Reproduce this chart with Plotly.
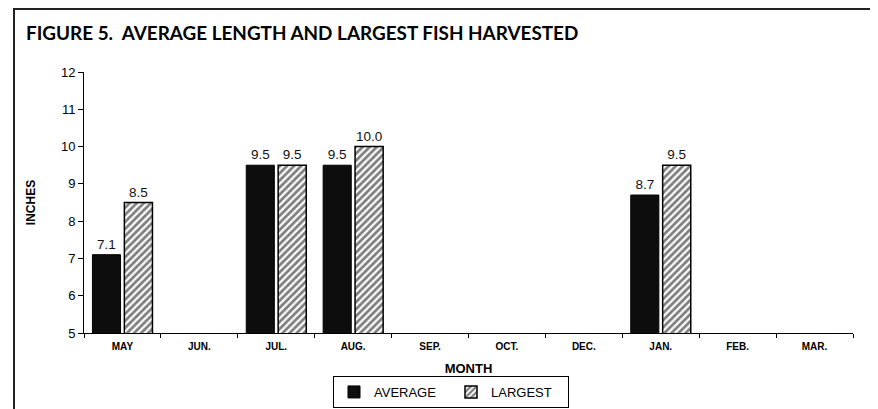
import plotly.graph_objects as go

months = ["MAY", "JUN.", "JUL.", "AUG.", "SEP.", "OCT.", "DEC.", "JAN.", "FEB.", "MAR."]
average = [7.1, None, 9.5, 9.5, None, None, None, 8.7, None, None]
largest = [8.5, None, 9.5, 10.0, None, None, None, 9.5, None, None]

# page body has an 8px default margin, so the figure is drawn 8px in from the top-left
OFF = 8
W, H = 878 - OFF, 409 - OFF
L = 84 - OFF
T = 72 - OFF
R = 878 - 853
B = 409 - 333
pw, ph = W - L - R, H - T - B


def px(x):
    return (x - OFF - L) / pw


def py(y):
    return (H - B - (y - OFF)) / ph


def present(vals):
    pairs = [(m, v) for m, v in zip(months, vals) if v is not None]
    return [p[0] for p in pairs], [p[1] for p in pairs]


avg_x, avg_y = present(average)
lrg_x, lrg_y = present(largest)

fig = go.Figure()
fig.add_trace(go.Bar(
    x=avg_x, y=avg_y, name="AVERAGE",
    marker=dict(color="#0d0d0d", line=dict(color="black", width=1)),
    texttemplate="%{y:.1f}", textposition="outside",
    textfont=dict(family="Liberation Sans, Arial", size=13.5, color="#111"),
))
fig.add_trace(go.Bar(
    x=lrg_x, y=lrg_y, name="LARGEST",
    marker=dict(color="white", line=dict(color="black", width=1.5),
                pattern=dict(shape="/", fgcolor="black", bgcolor="white", size=5, solidity=0.55)),
    texttemplate="%{y:.1f}", textposition="outside",
    textfont=dict(family="Liberation Sans, Arial", size=13.5, color="#111"),
))

fig.add_shape(type="rect", xref="paper", yref="paper",
              x0=px(14), x1=px(900), y0=py(450), y1=py(9),
              line=dict(color="#222", width=2), layer="below")

fig.update_layout(
    width=W, height=H,
    margin=dict(l=L, r=R, t=T, b=B, autoexpand=False),
    paper_bgcolor="white", plot_bgcolor="white",
    barmode="group", bargap=0.17, bargroupgap=0.12,
    showlegend=True,
    title=dict(text="<b>FIGURE 5.  AVERAGE LENGTH AND LARGEST FISH HARVESTED</b>",
               x=(26 - OFF) / W, xanchor="left", xref="container",
               y=1 - (33 - OFF) / H, yanchor="middle", yref="container",
               font=dict(family="Lato, Open Sans", size=18.9, color="black")),
    legend=dict(orientation="h", x=px(451), xanchor="center", y=py(392), yanchor="middle",
                bordercolor="black", borderwidth=1, bgcolor="white",
                font=dict(family="Liberation Sans, Arial", size=13, color="black"),
                itemwidth=30, entrywidth=72, traceorder="normal"),
    font=dict(family="Liberation Sans, Arial", color="black"),
)
fig.update_xaxes(
    type="category", categoryorder="array", categoryarray=months,
    range=[-0.5, len(months) - 0.5],
    showline=True, linecolor="black", linewidth=1,
    ticks="outside", tickson="boundaries", ticklen=4, tickcolor="black",
    tickfont=dict(size=10, family="Liberation Sans, Arial", weight="bold"),
    ticklabelstandoff=4,
    title=dict(text="<b>MONTH</b>", font=dict(size=13), standoff=12),
    showgrid=False, automargin=False,
)
fig.update_yaxes(
    range=[5, 12], dtick=1, showline=True, linecolor="black", linewidth=1,
    ticks="outside", ticklen=5, tickcolor="black",
    tickfont=dict(size=13, family="Liberation Sans, Arial"),
    title=dict(text="<b>INCHES</b>", font=dict(size=12), standoff=22),
    showgrid=False, zeroline=False, automargin=False,
)

fig.write_html("out.html")
